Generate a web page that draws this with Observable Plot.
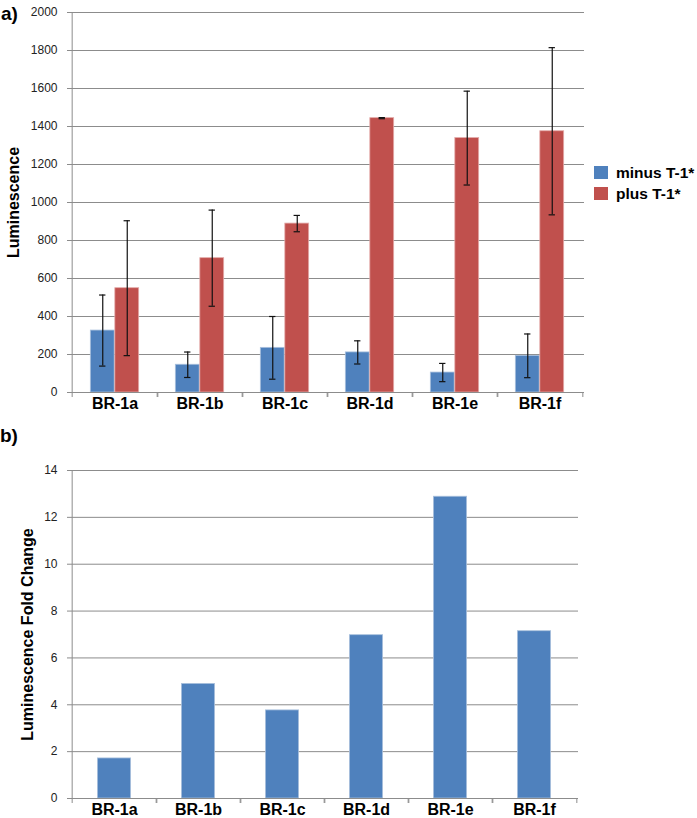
<!DOCTYPE html>
<html>
<head>
<meta charset="utf-8">
<script src="https://cdn.jsdelivr.net/npm/d3@7"></script>
<script src="https://cdn.jsdelivr.net/npm/@observablehq/plot@0.6"></script>
<style>
  html, body { margin: 0; padding: 0; background: #fff; }
  #root { position: relative; width: 697px; height: 818px; overflow: hidden; font-family: "Liberation Sans", Arial, sans-serif; }
  .panel { position: absolute; left: 0; }
  .tag { position: absolute; font-weight: bold; font-size: 19px; color: #000; }
  .legend { position: absolute; left: 594px; top: 162px; font-weight: bold; font-size: 15.5px; color: #000; }
  .legend div { display: flex; align-items: center; height: 21px; white-space: nowrap; }
  .legend span.sw { display: inline-block; width: 14px; height: 13px; margin-right: 8px; }
</style>
</head>
<body>
<div id="root">
  <div class="tag" style="left:1px;top:3px;">a)</div>
  <div class="tag" style="left:0px;top:425px;">b)</div>
  <div id="top" class="panel" style="top:0px;"></div>
  <div id="bottom" class="panel" style="top:420px;"></div>
  <div class="legend" id="legend"></div>
</div>
<script>
// ---- data ----
const categories = ["BR-1a", "BR-1b", "BR-1c", "BR-1d", "BR-1e", "BR-1f"];
const minusValues = [326, 146, 235, 211, 105, 193];
const minusErrors = [187, 67, 165, 61, 48, 115];
const plusValues = [549, 707, 889, 1444, 1339, 1375];
const plusErrors = [355, 253, 43, 3, 247, 440];
const foldChange = [1.71, 4.89, 3.76, 6.97, 12.88, 7.14];
const seriesNames = ["minus T-1*", "plus T-1*"];
const topTicks = [0, 200, 400, 600, 800, 1000, 1200, 1400, 1600, 1800, 2000];
const bottomTicks = [0, 2, 4, 6, 8, 10, 12, 14];

// ---- styling ----
const BLUE = "#4F81BD", RED = "#C0504D", GRID = "#8c8c8c";
const FONT = "Liberation Sans, Arial, sans-serif";

const rows = categories.map((c, i) => ({
  cat: c,
  minus: minusValues[i], minusLo: minusValues[i] - minusErrors[i], minusHi: minusValues[i] + minusErrors[i],
  plus: plusValues[i], plusLo: plusValues[i] - plusErrors[i], plusHi: plusValues[i] + plusErrors[i]
}));
const foldRows = categories.map((c, i) => ({cat: c, fold: foldChange[i]}));

// ---- top chart ----
{
  const W = 697, H = 420, ml = 70, mr = 113, mt = 12, mb = 28;
  const bw = (W - ml - mr) / categories.length;
  const barW = bw * 0.286;
  const gap = (bw - 2 * barW) / 2;
  const cap = 3.5;
  const chart = Plot.plot({
    width: W, height: H,
    marginLeft: ml, marginRight: mr, marginTop: mt, marginBottom: mb,
    style: {fontFamily: FONT, background: "transparent", overflow: "visible"},
    x: {domain: categories, padding: 0},
    y: {domain: [0, 2000]},
    marks: [
      Plot.gridY(topTicks, {stroke: GRID, strokeOpacity: 1}),
      Plot.ruleX([categories[0]], {dx: -bw / 2, stroke: GRID}),
      Plot.barY(rows, {x: "cat", y: "minus", fill: BLUE, stroke: "#a9c0dd", strokeWidth: 0.8,
        insetLeft: gap, insetRight: bw - gap - barW}),
      Plot.barY(rows, {x: "cat", y: "plus", fill: RED, stroke: "#e3aaa8", strokeWidth: 0.8,
        insetLeft: gap + barW, insetRight: gap}),
      Plot.ruleY([0], {stroke: GRID}),
      Plot.ruleX(rows, {x: "cat", y1: "minusLo", y2: "minusHi", dx: -barW / 2, stroke: "#111", strokeWidth: 1.2}),
      Plot.ruleX(rows, {x: "cat", y1: "plusLo", y2: "plusHi", dx: barW / 2, stroke: "#111", strokeWidth: 1.2}),
      Plot.tickY(rows, {x: "cat", y: "minusHi", stroke: "#111", strokeWidth: 1.2,
        insetLeft: bw / 2 - barW / 2 - cap, insetRight: bw / 2 + barW / 2 - cap}),
      Plot.tickY(rows, {x: "cat", y: "minusLo", stroke: "#111", strokeWidth: 1.2,
        insetLeft: bw / 2 - barW / 2 - cap, insetRight: bw / 2 + barW / 2 - cap}),
      Plot.tickY(rows, {x: "cat", y: "plusHi", stroke: "#111", strokeWidth: 1.2,
        insetLeft: bw / 2 + barW / 2 - cap, insetRight: bw / 2 - barW / 2 - cap}),
      Plot.tickY(rows, {x: "cat", y: "plusLo", stroke: "#111", strokeWidth: 1.2,
        insetLeft: bw / 2 + barW / 2 - cap, insetRight: bw / 2 - barW / 2 - cap}),
      Plot.axisY({ticks: topTicks, tickFormat: d3.format("d"), tickSize: 3, tickPadding: 10, fontSize: 12, stroke: GRID, fill: "#222", label: null}),
      Plot.axisX({tickSize: 5, dx: -bw / 2, tickFormat: () => "", stroke: GRID, label: null}),
      Plot.axisX({tickSize: 5, dx: bw / 2, tickFormat: () => "", stroke: GRID, label: null}),
      Plot.axisX({tickSize: 0, tickPadding: 5, fontSize: 16, fontWeight: "bold", fill: "#000", label: null}),
      Plot.text(["Luminescence"], {frameAnchor: "left", dx: -57, rotate: -90, fontSize: 16, fontWeight: "bold",
        fill: "#000", textAnchor: "middle", lineAnchor: "middle"})
    ]
  });
  document.getElementById("top").appendChild(chart);
}

// ---- bottom chart ----
{
  const W = 697, H = 398, ml = 70, mr = 119, mt = 50, mb = 20;
  const bw = (W - ml - mr) / categories.length;
  const inset = bw * 0.3;
  const chart = Plot.plot({
    width: W, height: H,
    marginLeft: ml, marginRight: mr, marginTop: mt, marginBottom: mb,
    style: {fontFamily: FONT, background: "transparent", overflow: "visible"},
    x: {domain: categories, padding: 0},
    y: {domain: [0, 14]},
    marks: [
      Plot.gridY(bottomTicks, {stroke: GRID, strokeOpacity: 1}),
      Plot.ruleX([categories[0]], {dx: -bw / 2, stroke: GRID}),
      Plot.barY(foldRows, {x: "cat", y: "fold", fill: BLUE, stroke: "#a9c0dd", strokeWidth: 0.8,
        insetLeft: inset, insetRight: inset}),
      Plot.ruleY([0], {stroke: GRID}),
      Plot.axisY({ticks: bottomTicks, tickFormat: d3.format("d"), tickSize: 3, tickPadding: 10, fontSize: 12, stroke: GRID, fill: "#222", label: null}),
      Plot.axisX({tickSize: 5, dx: -bw / 2, tickFormat: () => "", stroke: GRID, label: null}),
      Plot.axisX({tickSize: 5, dx: bw / 2, tickFormat: () => "", stroke: GRID, label: null}),
      Plot.axisX({tickSize: 0, tickPadding: 5, fontSize: 16, fontWeight: "bold", fill: "#000", label: null}),
      Plot.text(["Luminescence Fold Change"], {frameAnchor: "left", dx: -43, rotate: -90, fontSize: 16, fontWeight: "bold",
        fill: "#000", textAnchor: "middle", lineAnchor: "middle"})
    ]
  });
  document.getElementById("bottom").appendChild(chart);
}

// ---- legend ----
{
  const colors = [BLUE, RED];
  const lg = document.getElementById("legend");
  seriesNames.forEach((name, i) => {
    const row = document.createElement("div");
    const sw = document.createElement("span");
    sw.className = "sw";
    sw.style.background = colors[i];
    row.appendChild(sw);
    row.appendChild(document.createTextNode(name));
    lg.appendChild(row);
  });
}
</script>
</body>
</html>
